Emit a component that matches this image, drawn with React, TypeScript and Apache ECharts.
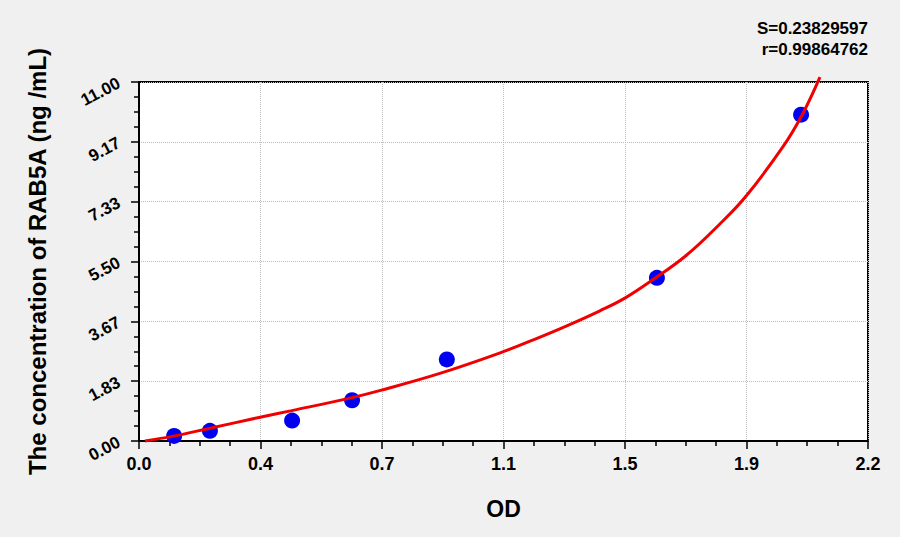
import { useRef, useEffect } from 'react';
import * as echarts from 'echarts';

// Standards: OD readings vs concentration (ng/mL)
const odValues = [0.106, 0.214, 0.462, 0.643, 0.929, 1.563, 1.998];
const concValues = [0.156, 0.312, 0.625, 1.25, 2.5, 5, 10];

// Fitted curve
const fitOd = [0.018, 0.104, 0.214, 0.362, 0.461, 0.643, 0.729, 0.908, 1.09, 1.19, 1.291, 1.391, 1.465, 1.542, 1.653, 1.753, 1.831, 1.943, 2.001, 2.055];
const fitConc = [0, 0.15, 0.39, 0.72, 0.93, 1.33, 1.55, 2.07, 2.7, 3.1, 3.53, 3.99, 4.37, 4.88, 5.7, 6.65, 7.49, 9.01, 9.99, 11.15];

const xTickLabels = ['0.0', '0.4', '0.7', '1.1', '1.5', '1.9', '2.2'];
const yTickLabels = ['0.00', '1.83', '3.67', '5.50', '7.33', '9.17', '11.00'];

const statLines = ['S=0.23829597', 'r=0.99864762'];

const X_MAX = 2.2;
const Y_MAX = 11;
const X_STEP = X_MAX / 6;
const Y_STEP = Y_MAX / 6;

const FONT = 'Arial, "Liberation Sans", sans-serif';

export default function App() {
  const ref = useRef<HTMLDivElement>(null);

  useEffect(() => {
    document.body.style.margin = '0';
    if (!ref.current) return;
    const chart = echarts.init(ref.current, undefined, { renderer: 'svg', width: 900, height: 537 });

    chart.setOption({
      animation: false,
      backgroundColor: '#f0f0f0',
      grid: {
        left: 139, right: 32, top: 82, bottom: 96,
        show: true, backgroundColor: '#ffffff', borderColor: '#000', borderWidth: 2,
      },
      graphic: statLines.map((t, i) => ({
        type: 'text',
        right: 32,
        top: 20 + i * 21,
        style: { text: t, font: `bold 17px ${FONT}`, fill: '#000', textAlign: 'right' },
      })),
      xAxis: {
        type: 'value', min: 0, max: X_MAX, interval: X_STEP,
        name: 'OD', nameLocation: 'middle', nameGap: 56,
        nameTextStyle: { fontFamily: FONT, fontWeight: 'bold', fontSize: 23, color: '#000' },
        axisLine: { show: true, lineStyle: { color: '#000', width: 2 } },
        axisTick: { show: true, length: 8, lineStyle: { color: '#000', width: 1.5 } },
        minorTick: { show: true, splitNumber: 4, length: 5, lineStyle: { color: '#000', width: 1.5 } },
        splitLine: { show: true, lineStyle: { color: '#bdbdbd', type: 'dotted', width: 1 } },
        axisLabel: {
          margin: 14, fontFamily: FONT, fontWeight: 'bold', fontSize: 18, color: '#000',
          formatter: (v: number) => xTickLabels[Math.round(v / X_STEP)] ?? '',
        },
      },
      yAxis: {
        type: 'value', min: 0, max: Y_MAX, interval: Y_STEP,
        name: 'The concentration of RAB5A (ng /mL)', nameLocation: 'middle', nameGap: 90,
        nameTextStyle: { fontFamily: FONT, fontWeight: 'bold', fontSize: 24, color: '#000' },
        axisLine: { show: true, lineStyle: { color: '#000', width: 2 } },
        axisTick: { show: true, length: 8, lineStyle: { color: '#000', width: 1.5 } },
        minorTick: { show: true, splitNumber: 4, length: 5, lineStyle: { color: '#000', width: 1.5 } },
        splitLine: { show: true, lineStyle: { color: '#bdbdbd', type: 'dotted', width: 1 } },
        axisLabel: {
          margin: 20, rotate: 28, fontFamily: FONT, fontWeight: 'bold', fontSize: 17, color: '#000',
          formatter: (v: number) => yTickLabels[Math.round(v / Y_STEP)] ?? '',
        },
      },
      series: [
        {
          type: 'line',
          data: fitOd.map((x, i) => [x, fitConc[i]]),
          smooth: 0.4, showSymbol: false, clip: false,
          lineStyle: { color: '#f00000', width: 3 },
          z: 3,
        },
        {
          type: 'scatter',
          data: odValues.map((x, i) => [x, concValues[i]]),
          symbol: 'circle', symbolSize: 16,
          itemStyle: { color: '#0000ee', opacity: 1 },
          z: 2,
        },
      ],
    });

    return () => { chart.dispose(); };
  }, []);

  return <div ref={ref} style={{ width: 900, height: 537 }} />;
}
